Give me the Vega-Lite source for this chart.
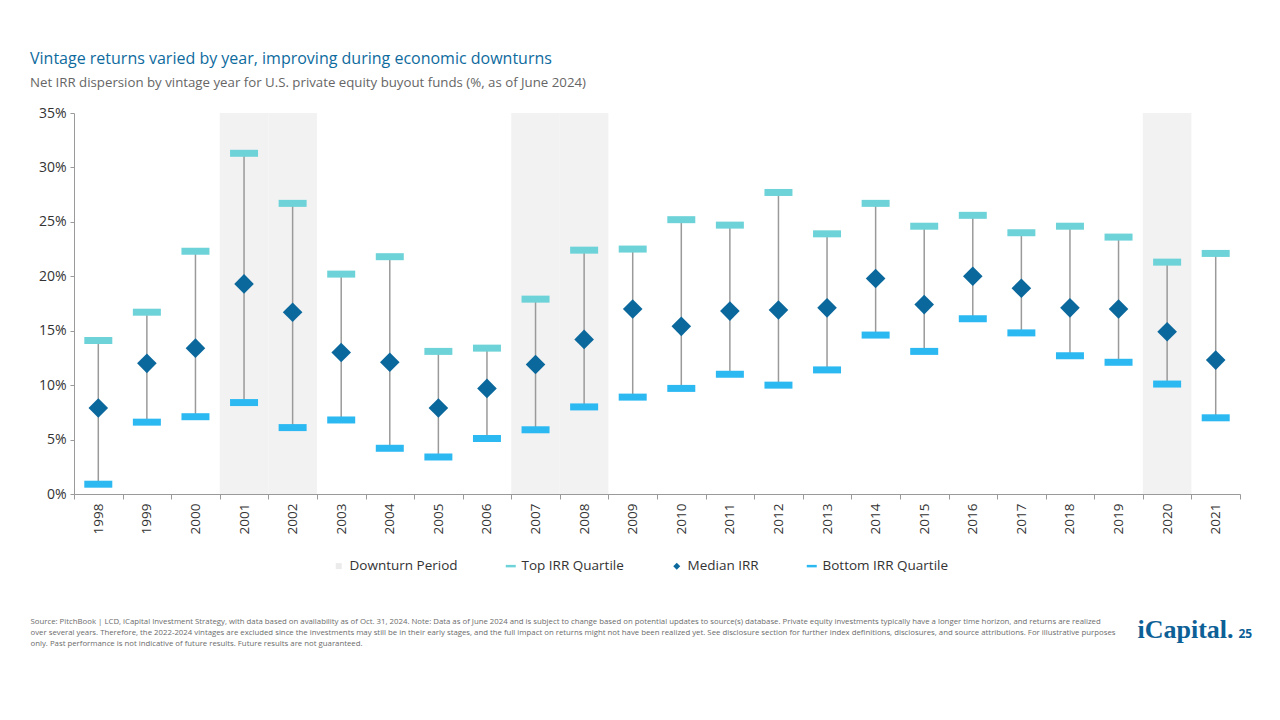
{
  "$schema": "https://vega.github.io/schema/vega-lite/v6.json",
  "width": 1166,
  "height": 381,
  "autosize": {"type": "none"},
  "padding": {"left": 74, "top": 113, "right": 40, "bottom": 226},
  "background": "white",
  "config": {
    "view": {"stroke": null},
    "font": "Open Sans",
    "axis": {"labelFont": "Open Sans", "titleFont": "Open Sans", "labelColor": "#333333", "domainColor": "#9a9a9a", "tickColor": "#9a9a9a", "grid": false},
    "legend": {"labelFont": "Open Sans"}
  },
  "title": {
    "text": "Vintage returns varied by year, improving during economic downturns",
    "subtitle": "Net IRR dispersion by vintage year for U.S. private equity buyout funds (%, as of June 2024)",
    "anchor": "start",
    "frame": "group",
    "dx": -44,
    "offset": 17,
    "fontSize": 16,
    "fontWeight": "normal",
    "color": "#0e6b9e",
    "subtitleFontSize": 13.25,
    "subtitleColor": "#666666",
    "subtitlePadding": 10
  },
  "data": {
    "values": [
      {"year": "1998", "top": 14.1, "median": 7.9, "bottom": 0.9},
      {"year": "1999", "top": 16.7, "median": 12.0, "bottom": 6.6},
      {"year": "2000", "top": 22.3, "median": 13.4, "bottom": 7.1},
      {"year": "2001", "top": 31.3, "median": 19.3, "bottom": 8.4},
      {"year": "2002", "top": 26.7, "median": 16.7, "bottom": 6.1},
      {"year": "2003", "top": 20.2, "median": 13.0, "bottom": 6.8},
      {"year": "2004", "top": 21.8, "median": 12.1, "bottom": 4.2},
      {"year": "2005", "top": 13.1, "median": 7.9, "bottom": 3.4},
      {"year": "2006", "top": 13.4, "median": 9.7, "bottom": 5.1},
      {"year": "2007", "top": 17.9, "median": 11.9, "bottom": 5.9},
      {"year": "2008", "top": 22.4, "median": 14.2, "bottom": 8.0},
      {"year": "2009", "top": 22.5, "median": 17.0, "bottom": 8.9},
      {"year": "2010", "top": 25.2, "median": 15.4, "bottom": 9.7},
      {"year": "2011", "top": 24.7, "median": 16.8, "bottom": 11.0},
      {"year": "2012", "top": 27.7, "median": 16.9, "bottom": 10.0},
      {"year": "2013", "top": 23.9, "median": 17.1, "bottom": 11.4},
      {"year": "2014", "top": 26.7, "median": 19.8, "bottom": 14.6},
      {"year": "2015", "top": 24.6, "median": 17.4, "bottom": 13.1},
      {"year": "2016", "top": 25.6, "median": 20.0, "bottom": 16.1},
      {"year": "2017", "top": 24.0, "median": 18.9, "bottom": 14.8},
      {"year": "2018", "top": 24.6, "median": 17.1, "bottom": 12.7},
      {"year": "2019", "top": 23.6, "median": 17.0, "bottom": 12.1},
      {"year": "2020", "top": 21.3, "median": 14.9, "bottom": 10.1},
      {"year": "2021", "top": 22.1, "median": 12.3, "bottom": 7.0}
    ]
  },
  "layer": [
    {
      "transform": [{"filter": "indexof(['2001','2002','2007','2008','2020'], datum.year) >= 0"}],
      "mark": {"type": "rect", "color": "#f2f2f2"},
      "encoding": {
        "x": {"field": "year", "type": "nominal"},
        "y": {"datum": 0, "type": "quantitative", "axis": null},
        "y2": {"datum": 35}
      }
    },
    {
      "mark": {"type": "rule", "color": "#9a9a9a", "strokeWidth": 1.5},
      "encoding": {
        "x": {"field": "year", "type": "nominal"},
        "y": {
          "field": "bottom", "type": "quantitative",
          "axis": {"orient": "right", "domain": false, "ticks": false, "labels": false, "title": "iCapital.", "titleAngle": 0, "titleX": -103, "titleY": 524, "titleAlign": "left", "titleBaseline": "alphabetic", "titleFont": "Liberation Serif", "titleFontSize": 26, "titleFontWeight": 600, "titleColor": "#0d6096"}
        },
        "y2": {"field": "top"}
      }
    },
    {
      "transform": [{"fold": ["top", "median", "bottom"], "as": ["series", "value"]}],
      "mark": {"type": "point", "filled": true, "opacity": 1},
      "encoding": {
        "x": {
          "field": "year", "type": "nominal",
          "scale": {"paddingInner": 0, "paddingOuter": 0},
          "axis": {
            "tickBand": "extent", "tickSize": 5, "labelAngle": -90, "labelAlign": "right", "labelBaseline": "middle", "labelFontSize": 13.5, "labelPadding": 4,
            "title": [
              "Source: PitchBook | LCD, iCapital Investment Strategy, with data based on availability as of Oct. 31, 2024. Note: Data as of June 2024 and is subject to change based on potential updates to source(s) database. Private equity investments typically have a longer time horizon, and returns are realized",
              "over several years. Therefore, the 2022-2024 vintages are excluded since the investments may still be in their early stages, and the full impact on returns might not have been realized yet. See disclosure section for further index definitions, disclosures, and source attributions. For illustrative purposes",
              "only. Past performance is not indicative of future results. Future results are not guaranteed."
            ],
            "titleX": -44, "titleY": 123, "titleAlign": "left", "titleAnchor": "start", "titleBaseline": "top", "titleAngle": 0,
            "titleFontSize": 7.8, "titleFontWeight": "normal", "titleColor": "#6b6b6b", "titleLineHeight": 11
          }
        },
        "y": {
          "field": "value", "type": "quantitative",
          "scale": {"domain": [0, 35], "nice": false, "zero": true},
          "axis": {
            "values": [0, 5, 10, 15, 20, 25, 30, 35], "labelExpr": "datum.value + '%'", "labelFontSize": 14, "tickSize": 4, "labelPadding": 4,
            "title": "25", "titleAngle": 0, "titleX": 1164, "titleY": 524, "titleAlign": "left", "titleBaseline": "alphabetic", "titleFontSize": 12, "titleFontWeight": "bold", "titleColor": "#0d6096"
          }
        },
        "color": {
          "field": "series", "type": "nominal",
          "scale": {"domain": ["downturn", "top", "median", "bottom"], "range": ["#ebebeb", "#6dd3d8", "#0b689c", "#2cb9f2"]},
          "legend": {
            "orient": "none", "direction": "horizontal", "legendX": 258, "legendY": 446, "title": null,
            "labelExpr": "datum.label == 'downturn' ? 'Downturn Period' : datum.label == 'top' ? 'Top IRR Quartile' : datum.label == 'median' ? 'Median IRR' : 'Bottom IRR Quartile'",
            "labelFontSize": 13.5, "labelColor": "#333333", "columnPadding": 46, "symbolSize": 100, "labelOffset": 4
          }
        },
        "shape": {
          "field": "series", "type": "nominal",
          "scale": {"domain": ["downturn", "top", "median", "bottom"], "range": ["M-0.6,-0.6H0.6V0.6H-0.6Z", "M-1,-0.25H1V0.25H-1Z", "M0,-0.7L0.7,0L0,0.7L-0.7,0Z", "M-1,-0.25H1V0.25H-1Z"]}
        },
        "size": {"value": 784}
      }
    },
    {
      "transform": [{"filter": "datum.year == 'none'"}],
      "mark": {"type": "point"},
      "encoding": {
        "x": {"field": "year", "type": "nominal"},
        "y": {"field": "median", "type": "quantitative", "axis": null}
      }
    }
  ],
  "resolve": {"axis": {"y": "independent"}}
}
